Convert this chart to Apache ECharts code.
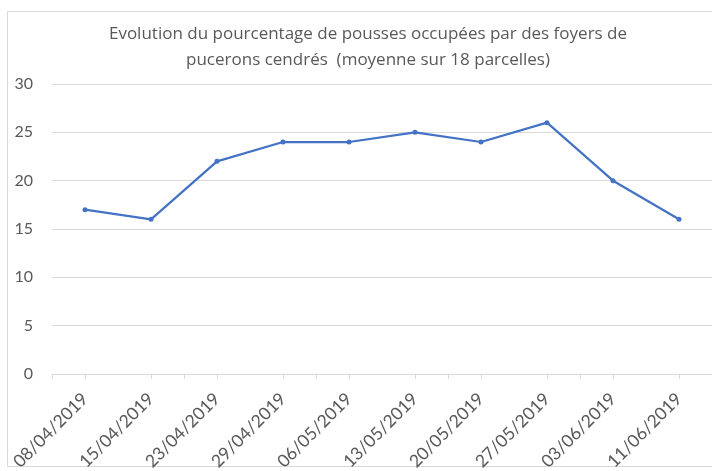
<!DOCTYPE html>
<html>
<head>
<meta charset="utf-8">
<script src="https://cdn.jsdelivr.net/npm/echarts@6/dist/echarts.min.js"></script>
<style>html,body{margin:0;padding:0;background:#fff;}#c{width:712px;height:471px;}</style>
</head>
<body>
<div id="c"></div>
<script>
const titleLines = ["Evolution du pourcentage de pousses occupées par des foyers de", "pucerons cendrés  (moyenne sur 18 parcelles)"];
const categories = ["08/04/2019","15/04/2019","23/04/2019","29/04/2019","06/05/2019","13/05/2019","20/05/2019","27/05/2019","03/06/2019","11/06/2019"];
const values = [17, 16, 22, 24, 24, 25, 24, 26, 20, 16];
const yMin = 0, yMax = 30, yStep = 5;

const chart = echarts.init(document.getElementById('c'), null, {renderer: 'canvas'});
const FONT = 'Lato';
const TXT = '#595959';
chart.setOption({
  animation: false,
  backgroundColor: '#ffffff',
  title: {
    text: titleLines.join('\n'),
    left: 363, top: 16, textAlign: 'center',
    textStyle: {fontFamily: 'Open Sans', fontSize: 17, fontWeight: 'normal', color: TXT, lineHeight: 26}
  },
  graphic: [{
    type: 'rect', shape: {x: 7.5, y: 11.5, width: 720, height: 455},
    style: {fill: 'none', stroke: '#d9d9d9', lineWidth: 1}, silent: true
  }],
  grid: {left: 52, right: 0, top: 84, bottom: 97, containLabel: false, outerBoundsMode: 'none'},
  xAxis: [{
    type: 'category', data: categories, boundaryGap: true, position: 'bottom',
    axisLine: {show: true, lineStyle: {color: '#d9d9d9', width: 1}},
    axisTick: {show: true, alignWithLabel: true, length: 5, lineStyle: {color: '#d9d9d9'}},
    axisLabel: {rotate: 45, margin: 22, interval: 0, fontFamily: FONT, fontSize: 17.5, color: TXT},
    splitLine: {show: false}
  }, {
    type: 'category', data: categories, boundaryGap: true, position: 'bottom',
    axisLine: {show: false},
    axisTick: {show: true, length: 5, lineStyle: {color: '#d9d9d9'}},
    axisLabel: {show: false},
    splitLine: {show: false}
  }],
  yAxis: {
    type: 'value', min: yMin, max: yMax, interval: yStep,
    axisLine: {show: false}, axisTick: {show: false},
    axisLabel: {margin: 19, fontFamily: FONT, fontSize: 16, color: TXT},
    splitLine: {show: true, lineStyle: {color: '#d9d9d9', width: 1}}
  },
  series: [{
    type: 'line', xAxisIndex: 0, data: values,
    symbol: 'circle', symbolSize: 5,
    lineStyle: {color: '#4472C4', width: 2.25},
    itemStyle: {color: '#4472C4'}
  }]
});
</script>
</body>
</html>
